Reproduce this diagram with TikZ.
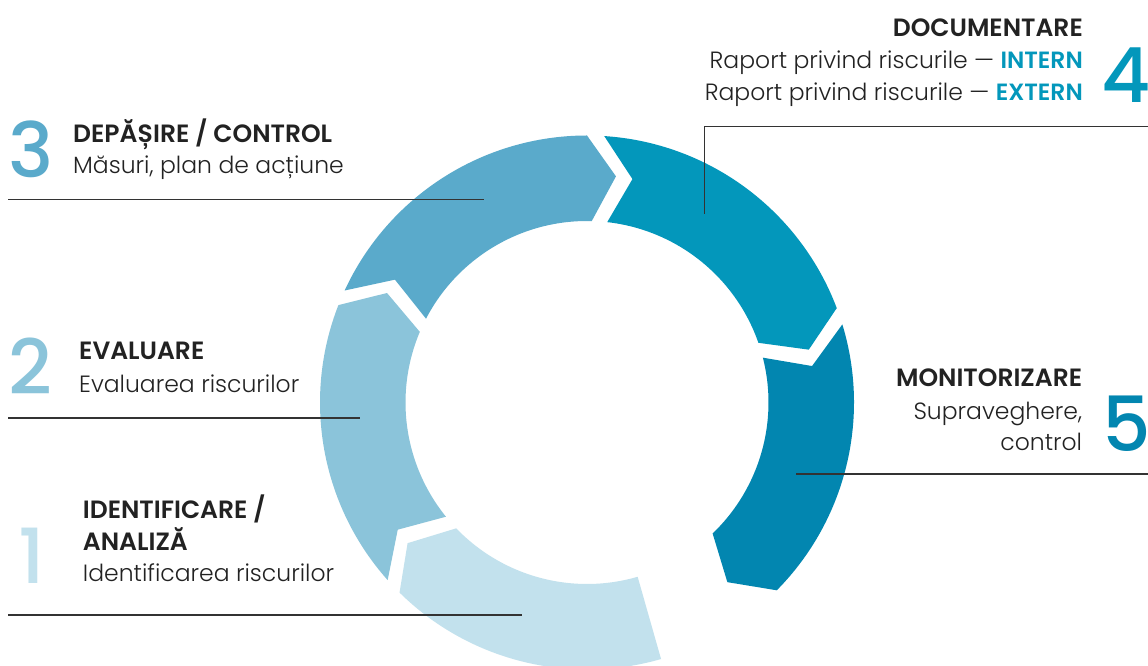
\documentclass[tikz,border=0pt]{standalone}
\usepackage{fontspec}
\setmainfont{Poppins Light}[BoldFont={Poppins SemiBold}]
\newfontfamily\numfont{Poppins Medium}
\definecolor{cA}{HTML}{C2E1ED}
\definecolor{cB}{HTML}{8BC4DA}
\definecolor{cC}{HTML}{5AAACB}
\definecolor{cD}{HTML}{0397BB}
\definecolor{cE}{HTML}{0286B0}
\definecolor{ink}{HTML}{222222}
\definecolor{rulec}{HTML}{333333}
\tikzset{
  head/.style={text=ink,inner sep=0pt,font=\fontsize{25}{28}\selectfont\bfseries},
  body/.style={text=ink,inner sep=0pt,font=\fontsize{23.5}{27}\selectfont},
  bignum/.style={inner sep=0pt,font=\fontsize{76}{80}\selectfont\numfont},
  leader/.style={draw=rulec,line width=1.3pt}
}
\begin{document}
\begin{tikzpicture}[x=1pt,y=1pt]
\useasboundingbox (0,0) rectangle (1148,666);
\clip (0,0) rectangle (1148,666);
\fill[white] (0,0) rectangle (1148,666);
% ring
\begin{scope}[shift={(587,263.5)}]
\fill[cA] (286.1:267) arc[start angle=286.1,end angle=225.4,radius=267] -- (218.1:228) -- (223.9:181.5) arc[start angle=223.9,end angle=286.2,radius=181.5] -- cycle;
\fill[cB] (221.7:267) arc[start angle=221.7,end angle=158.6,radius=267] -- (151.3:228) -- (157.1:181.5) arc[start angle=157.1,end angle=219,radius=181.5] -- (213.9:228) -- cycle;
\fill[cC] (155.2:267) arc[start angle=155.2,end angle=90,radius=267] -- (82.7:228) -- (88.5:181.5) arc[start angle=88.5,end angle=152.5,radius=181.5] -- (147.4:228) -- cycle;
\fill[cD] (86.3:267) arc[start angle=86.3,end angle=20.7,radius=267] -- (13.4:228) -- (19.2:181.5) arc[start angle=19.2,end angle=83.6,radius=181.5] -- (78.5:228) -- cycle;
\fill[cE] (17:267) arc[start angle=17,end angle=-44.7,radius=267] -- (-52:228) -- (-46.2:181.5) arc[start angle=-46.2,end angle=14.3,radius=181.5] -- (9.2:228) -- cycle;
\end{scope}
% leader end points
\coordinate (l3a) at (8,466.5);   \coordinate (l3b) at (484,466.5);
\coordinate (l2a) at (8,248);     \coordinate (l2b) at (359.6,248);
\coordinate (l1a) at (8,51);      \coordinate (l1b) at (521.5,51);
\coordinate (l4a) at (704.3,452); \coordinate (l4c) at (704.3,539.3); \coordinate (l4b) at (1148,539.3);
\coordinate (l5a) at (796.4,192); \coordinate (l5b) at (1148,192);
\draw[leader] (l3a) -- (l3b);
\draw[leader] (l2a) -- (l2b);
\draw[leader] (l1a) -- (l1b);
\draw[leader] (l4a) -- (l4c) -- (l4b);
\draw[leader] (l5a) -- (l5b);
% 4 DOCUMENTARE
\node[head,anchor=base east] (t4h) at (1083,629.3) {DOCUMENTARE};
\node[body,anchor=base east] (t4a) at (1083,597) {Raport privind riscurile — \textbf{\color{cD}INTERN}};
\node[body,anchor=base east] (t4b) at (1083,565.3) {Raport privind riscurile — \textbf{\color{cD}EXTERN}};
\node[bignum,text=cD,anchor=base west] (n4) at (1101,563.7) {4};
% 3
\node[bignum,text=cC,anchor=base west] (n3) at (8,488.7) {3};
\node[head,anchor=base west] (t3h) at (73,523.3) {DEPĂȘIRE / CONTROL};
\node[body,anchor=base west] (t3a) at (73,492) {Măsuri, plan de acțiune};
% 2
\node[bignum,text=cB,anchor=base west] (n2) at (8,271) {2};
\node[head,anchor=base west] (t2h) at (79,306) {EVALUARE};
\node[body,anchor=base west] (t2a) at (79,273.7) {Evaluarea riscurilor};
% 1
\node[bignum,text=cA,anchor=base west] (n1) at (18,82) {1};
\node[head,anchor=base west] (t1h) at (82.7,147.7) {IDENTIFICARE /};
\node[head,anchor=base west] (t1i) at (82.7,115.3) {ANALIZĂ};
\node[body,anchor=base west] (t1a) at (82.7,84.3) {Identificarea riscurilor};
% 5
\node[head,anchor=base east] (t5h) at (1082.3,279.3) {MONITORIZARE};
\node[body,anchor=base east] (t5a) at (1082.3,246.7) {Supraveghere,};
\node[body,anchor=base east] (t5b) at (1082.3,215) {control};
\node[bignum,text=cE,anchor=base west] (n5) at (1102,214.3) {5};
\end{tikzpicture}
\end{document}
